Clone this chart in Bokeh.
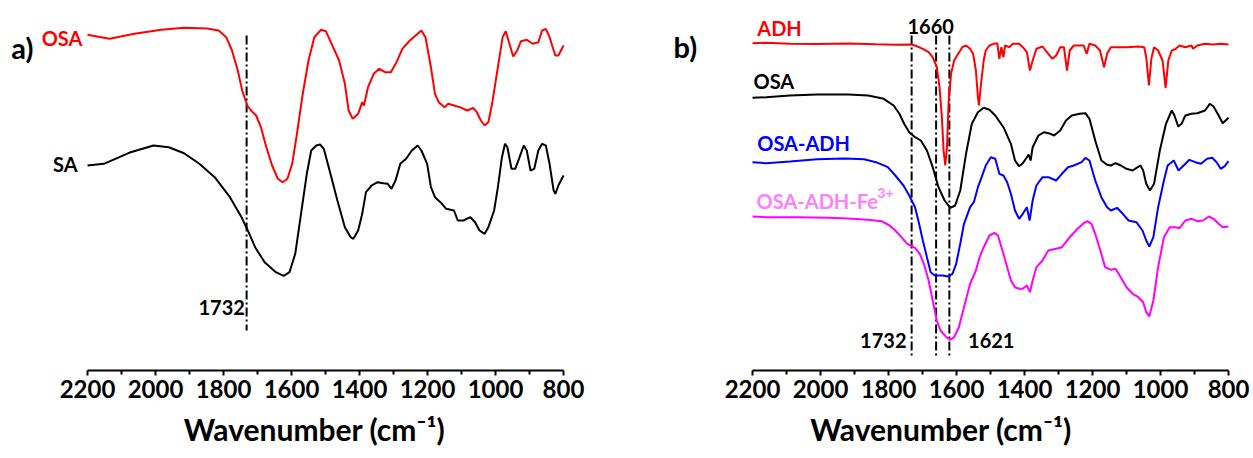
from bokeh.plotting import figure
from bokeh.models import Range1d, LinearAxis, FixedTicker, Label, ColumnDataSource
from bokeh.layouts import row
from bokeh.embed import file_html
from bokeh.resources import INLINE

FONT = "Lato"

TICKS = [2200, 2000, 1800, 1600, 1400, 1200, 1000, 800]
MINOR_TICKS = [2100, 1900, 1700, 1500, 1300, 1100, 900]
AXIS_TITLE = "Wavenumber (cm\u207b\u00b9)"

# ---------------- panel a ----------------
a_osa_wn = [2200, 2135, 2062, 1983, 1916, 1848, 1814, 1792, 1775, 1758, 1745, 1730, 1719, 1704,
            1690, 1674, 1657, 1640, 1626, 1612, 1598, 1584, 1567, 1550, 1533, 1513, 1499, 1482,
            1460, 1443, 1432, 1420, 1404, 1392, 1387, 1375, 1358, 1342, 1325, 1308, 1291, 1274,
            1252, 1229, 1218, 1206, 1190, 1178, 1167, 1150, 1139, 1122, 1105, 1083, 1066, 1055,
            1043, 1032, 1021, 1010, 993, 979, 970, 959, 948, 936, 925, 908, 891, 874, 863, 852,
            841, 824, 815, 800]
a_osa_t = [335.7, 331.7, 336.7, 340.7, 342.7, 342.0, 340.0, 333.3, 320.0, 300.0, 280.0, 265.0,
           260.0, 255.0, 243.3, 223.3, 205.0, 191.7, 188.3, 191.7, 206.7, 236.7, 276.7, 310.0,
           333.3, 340.7, 339.3, 326.7, 310.0, 286.7, 260.0, 251.7, 256.7, 268.3, 265.0, 283.3,
           296.7, 301.7, 298.3, 298.3, 308.3, 321.7, 330.0, 336.7, 340.0, 333.3, 303.3, 276.7,
           268.3, 263.3, 266.7, 265.0, 263.3, 260.0, 262.7, 258.3, 250.0, 245.0, 248.3, 266.7,
           303.3, 333.3, 339.3, 326.7, 314.0, 320.0, 329.3, 330.7, 326.7, 328.3, 340.0, 341.7,
           333.3, 315.0, 315.0, 325.0]

a_sa_wn = [2200, 2152, 2118, 2073, 2006, 1961, 1916, 1871, 1826, 1781, 1747, 1724, 1707, 1679,
           1646, 1623, 1606, 1589, 1572, 1555, 1542, 1527, 1516, 1505, 1488, 1465, 1443, 1426,
           1418, 1404, 1392, 1381, 1364, 1347, 1330, 1317, 1306, 1294, 1280, 1263, 1246, 1229,
           1218, 1201, 1190, 1178, 1162, 1145, 1122, 1111, 1094, 1074, 1060, 1047, 1032, 1021,
           1004, 993, 981, 972, 965, 953, 942, 931, 917, 908, 897, 886, 874, 863, 852, 841, 829,
           824, 815, 800]
a_sa_t = [205.0, 206.7, 211.7, 218.3, 225.0, 223.3, 217.3, 206.7, 193.3, 173.3, 153.3, 136.7,
          123.3, 108.3, 98.3, 94.7, 98.3, 116.7, 156.7, 196.7, 220.0, 225.0, 226.0, 221.7, 200.0,
          170.0, 143.3, 133.3, 131.7, 140.0, 156.7, 178.3, 185.0, 188.3, 187.3, 186.7, 181.7,
          190.0, 206.7, 211.7, 220.0, 225.0, 220.0, 206.7, 183.3, 173.3, 168.3, 161.7, 160.0,
          150.0, 150.0, 153.3, 148.3, 140.0, 136.7, 143.3, 160.0, 183.3, 213.3, 226.7, 223.3,
          201.7, 201.7, 211.7, 225.0, 220.0, 200.0, 201.7, 220.0, 226.7, 225.0, 206.7, 180.0,
          176.7, 185.0, 195.0]

a_marks = [1732]

# ---------------- panel b ----------------
b_adh_wn = [2200, 2160, 2090, 2010, 1918, 1837, 1780, 1733, 1722, 1699, 1682, 1670, 1658, 1650,
            1643, 1638, 1633, 1628, 1623, 1616, 1607, 1595, 1583, 1572, 1560, 1551, 1543, 1537,
            1534, 1528, 1520, 1514, 1503, 1491, 1480, 1474, 1468, 1462, 1457, 1445, 1434, 1416,
            1405, 1393, 1384, 1376, 1365, 1347, 1330, 1318, 1307, 1295, 1284, 1275, 1267, 1255,
            1238, 1226, 1217, 1209, 1192, 1178, 1166, 1157, 1146, 1123, 1100, 1065, 1048, 1042,
            1034, 1027, 1019, 1007, 994, 985, 977, 967, 955, 944, 927, 909, 904, 892, 869, 846,
            823, 800]
b_adh_t = [327.3, 327.7, 326.8, 326.5, 327.0, 326.2, 325.8, 326.0, 325.0, 321.7, 318.3, 313.3,
           303.3, 283.3, 253.3, 220.0, 205.0, 223.3, 270.0, 296.7, 310.0, 316.7, 323.3, 325.0,
           321.7, 316.7, 300.0, 273.3, 265.0, 286.7, 310.0, 320.0, 325.0, 326.7, 327.3, 311.7,
           323.3, 313.3, 325.0, 323.3, 326.7, 326.7, 323.3, 318.3, 300.0, 310.0, 321.7, 324.0,
           316.7, 311.7, 315.0, 323.3, 323.3, 300.0, 320.0, 325.0, 325.0, 325.0, 316.7, 326.7,
           325.0, 320.0, 303.3, 316.7, 323.3, 323.3, 323.3, 324.0, 323.3, 313.3, 285.0, 311.7,
           323.3, 320.0, 310.0, 282.7, 310.0, 320.0, 321.7, 325.0, 323.3, 325.0, 321.7, 325.0,
           326.7, 326.0, 326.7, 326.0]

b_osa_wn = [2200, 2160, 2090, 2010, 1918, 1860, 1814, 1785, 1768, 1754, 1739, 1722, 1705, 1687,
            1670, 1653, 1635, 1618, 1604, 1589, 1572, 1555, 1537, 1520, 1503, 1486, 1462, 1440,
            1428, 1416, 1405, 1393, 1388, 1382, 1376, 1359, 1342, 1324, 1313, 1295, 1278, 1261,
            1238, 1221, 1209, 1192, 1174, 1157, 1146, 1132, 1117, 1100, 1082, 1067, 1059, 1051,
            1042, 1031, 1019, 1002, 984, 967, 959, 948, 938, 927, 909, 892, 869, 855, 844, 829,
            817, 800]
b_osa_t = [272.7, 273.3, 275.0, 276.0, 276.0, 275.0, 271.7, 265.0, 256.7, 246.7, 238.3, 233.3,
           230.0, 220.0, 203.3, 183.3, 170.0, 162.7, 165.0, 180.0, 216.7, 246.7, 258.3, 262.7,
           260.7, 255.0, 243.3, 226.7, 210.0, 204.3, 207.3, 213.3, 216.0, 210.0, 223.3, 235.0,
           238.3, 236.7, 235.0, 240.0, 250.0, 255.0, 256.7, 257.3, 251.7, 230.0, 210.0, 205.7,
           205.0, 207.3, 205.0, 201.7, 200.0, 203.3, 205.0, 200.0, 186.7, 180.0, 186.7, 220.0,
           246.7, 260.0, 255.0, 244.0, 246.7, 255.0, 256.7, 257.3, 260.0, 266.7, 264.0, 255.0,
           247.3, 252.7]

b_osaadh_wn = [2200, 2160, 2090, 2010, 1929, 1872, 1837, 1802, 1780, 1756, 1739, 1722, 1710,
               1699, 1687, 1676, 1664, 1641, 1624, 1612, 1601, 1589, 1578, 1560, 1549, 1537, 1526,
               1514, 1499, 1486, 1474, 1462, 1451, 1440, 1428, 1416, 1405, 1393, 1385, 1376, 1365,
               1347, 1330, 1307, 1290, 1272, 1255, 1232, 1221, 1209, 1192, 1174, 1157, 1146, 1128,
               1111, 1094, 1071, 1053, 1042, 1033, 1021, 1007, 990, 979, 961, 947, 932, 915, 898,
               881, 863, 848, 835, 823, 811, 800]
b_osaadh_t = [208.3, 207.3, 209.0, 211.3, 212.0, 211.3, 208.3, 203.3, 195.0, 185.0, 175.0, 163.3,
              146.7, 130.0, 113.3, 98.3, 95.0, 95.0, 94.0, 96.7, 106.7, 126.7, 146.7, 163.3, 168.3,
              183.3, 193.3, 205.0, 213.3, 211.7, 196.7, 195.0, 188.3, 176.7, 160.0, 151.7, 156.7,
              163.3, 150.0, 170.0, 185.0, 193.3, 193.3, 190.0, 196.7, 203.3, 205.0, 208.3, 212.7,
              210.0, 190.0, 173.3, 163.3, 160.0, 162.7, 156.7, 150.0, 148.3, 140.0, 130.0, 124.0,
              133.3, 163.3, 190.0, 205.0, 210.0, 200.0, 205.0, 210.7, 208.3, 206.7, 211.7, 212.7,
              208.3, 201.7, 204.3, 209.3]

b_fe_wn = [2200, 2160, 2068, 1975, 1906, 1860, 1820, 1797, 1780, 1762, 1745, 1722, 1708, 1696,
           1682, 1670, 1658, 1647, 1630, 1618, 1607, 1593, 1578, 1560, 1543, 1532, 1520, 1503,
           1488, 1478, 1462, 1451, 1440, 1428, 1416, 1405, 1393, 1384, 1376, 1365, 1347, 1330,
           1307, 1290, 1267, 1244, 1226, 1215, 1203, 1192, 1174, 1163, 1146, 1132, 1117, 1100,
           1082, 1065, 1051, 1042, 1033, 1021, 1007, 990, 973, 956, 944, 927, 909, 892, 875, 858,
           844, 829, 817, 800]
b_fe_t = [154.0, 153.3, 153.3, 152.7, 151.7, 150.7, 149.3, 145.0, 140.0, 133.3, 126.7, 122.7,
          116.7, 106.7, 90.0, 70.0, 50.0, 40.0, 33.3, 30.7, 33.3, 43.3, 63.3, 86.7, 100.0, 113.3,
          123.3, 135.0, 137.7, 135.0, 116.7, 103.3, 90.0, 83.3, 81.7, 81.7, 85.0, 78.3, 90.0,
          103.3, 110.0, 120.0, 121.7, 123.3, 133.3, 141.7, 147.3, 149.3, 146.7, 136.7, 116.7,
          103.3, 100.7, 101.7, 93.3, 83.3, 76.7, 73.3, 68.3, 58.3, 54.0, 70.0, 103.3, 133.3,
          143.3, 143.3, 142.3, 150.0, 151.7, 149.3, 150.0, 154.0, 151.7, 146.7, 143.3, 144.0]

b_marks = [1732, 1660, 1621]

RED = "#FF0000"
BLACK = "#000000"
BLUE = "#0000FF"
MAGENTA = "#FF00FF"
PINK = "#FF80FF"


def make_fig(width, x_start, x_end):
    p = figure(width=width, height=458, x_range=Range1d(x_start, x_end), y_range=Range1d(0, 370),
               output_backend="svg", toolbar_location=None, x_axis_location=None,
               y_axis_location=None, min_border_left=0, min_border_right=0, min_border_top=0,
               min_border_bottom=88, background_fill_color="white", border_fill_color="white")
    p.outline_line_color = None
    p.xgrid.grid_line_color = None
    p.ygrid.grid_line_color = None
    ax = LinearAxis(ticker=FixedTicker(ticks=TICKS, minor_ticks=MINOR_TICKS), bounds=(800, 2200),
                    axis_label=AXIS_TITLE)
    ax.axis_line_width = 2
    ax.axis_line_color = BLACK
    ax.major_tick_line_width = 2
    ax.major_tick_in = 0
    ax.major_tick_out = 5
    ax.minor_tick_line_width = 2
    ax.minor_tick_in = 0
    ax.minor_tick_out = 4
    ax.major_label_text_font = FONT
    ax.major_label_text_font_size = "24px"
    ax.major_label_text_font_style = "bold"
    ax.major_label_text_color = BLACK
    ax.major_label_standoff = 4
    ax.axis_label_text_font = FONT
    ax.axis_label_text_font_size = "30px"
    ax.axis_label_text_font_style = "bold"
    ax.axis_label_text_color = BLACK
    ax.axis_label_standoff = 10
    p.add_layout(ax, "below")
    return p


def lab(p, x, y, text, color, size="20px", align="left"):
    p.add_layout(Label(x=x, y=y, text=text, text_color=color, text_font=FONT,
                       text_font_size=size, text_font_style="bold", text_align=align,
                       text_baseline="middle"))


def marks(p, wns, top, bottom):
    src = ColumnDataSource(dict(x=wns, y0=[top] * len(wns), y1=[bottom] * len(wns)))
    p.segment(x0="x", x1="x", y0="y0", y1="y1", source=src, line_color=BLACK, line_width=2,
              line_dash="9 3 2 3")


# panel a
pa = make_fig(628, 2455.9, 608.8)
marks(pa, a_marks, 335, 40)
pa.line(a_osa_wn, a_osa_t, line_color=RED, line_width=2)
pa.line(a_sa_wn, a_sa_t, line_color=BLACK, line_width=2)
lab(pa, 2424, 323, "a)", BLACK, size="29px")
lab(pa, 2215, 333, "OSA", RED, align="right")
lab(pa, 2229, 207, "SA", BLACK, align="right")
lab(pa, 1737, 63, "1732", BLACK, align="right")

# panel b
pb = make_fig(625, 2564.7, 726.5)
marks(pb, b_marks, 335, 12)
pb.line(b_adh_wn, b_adh_t, line_color=RED, line_width=2)
pb.line(b_osa_wn, b_osa_t, line_color=BLACK, line_width=2)
pb.line(b_osaadh_wn, b_osaadh_t, line_color=BLUE, line_width=2)
pb.line(b_fe_wn, b_fe_t, line_color=MAGENTA, line_width=2)
lab(pb, 2432, 324, "b)", BLACK, size="29px")
lab(pb, 2186, 343, "ADH", RED)
lab(pb, 1676, 344, "1660", BLACK, align="center")
lab(pb, 2197, 290, "OSA", BLACK)
lab(pb, 2186, 228, "OSA-ADH", BLUE)
lab(pb, 2188, 170, "OSA-ADH-Fe", PINK)
lab(pb, 1833, 178, "3+", PINK, size="14px")
lab(pb, 1747, 30, "1732", BLACK, align="right")
lab(pb, 1566, 30, "1621", BLACK)

layout = row(pa, pb)
open("out.html", "w").write(file_html(layout, INLINE))
